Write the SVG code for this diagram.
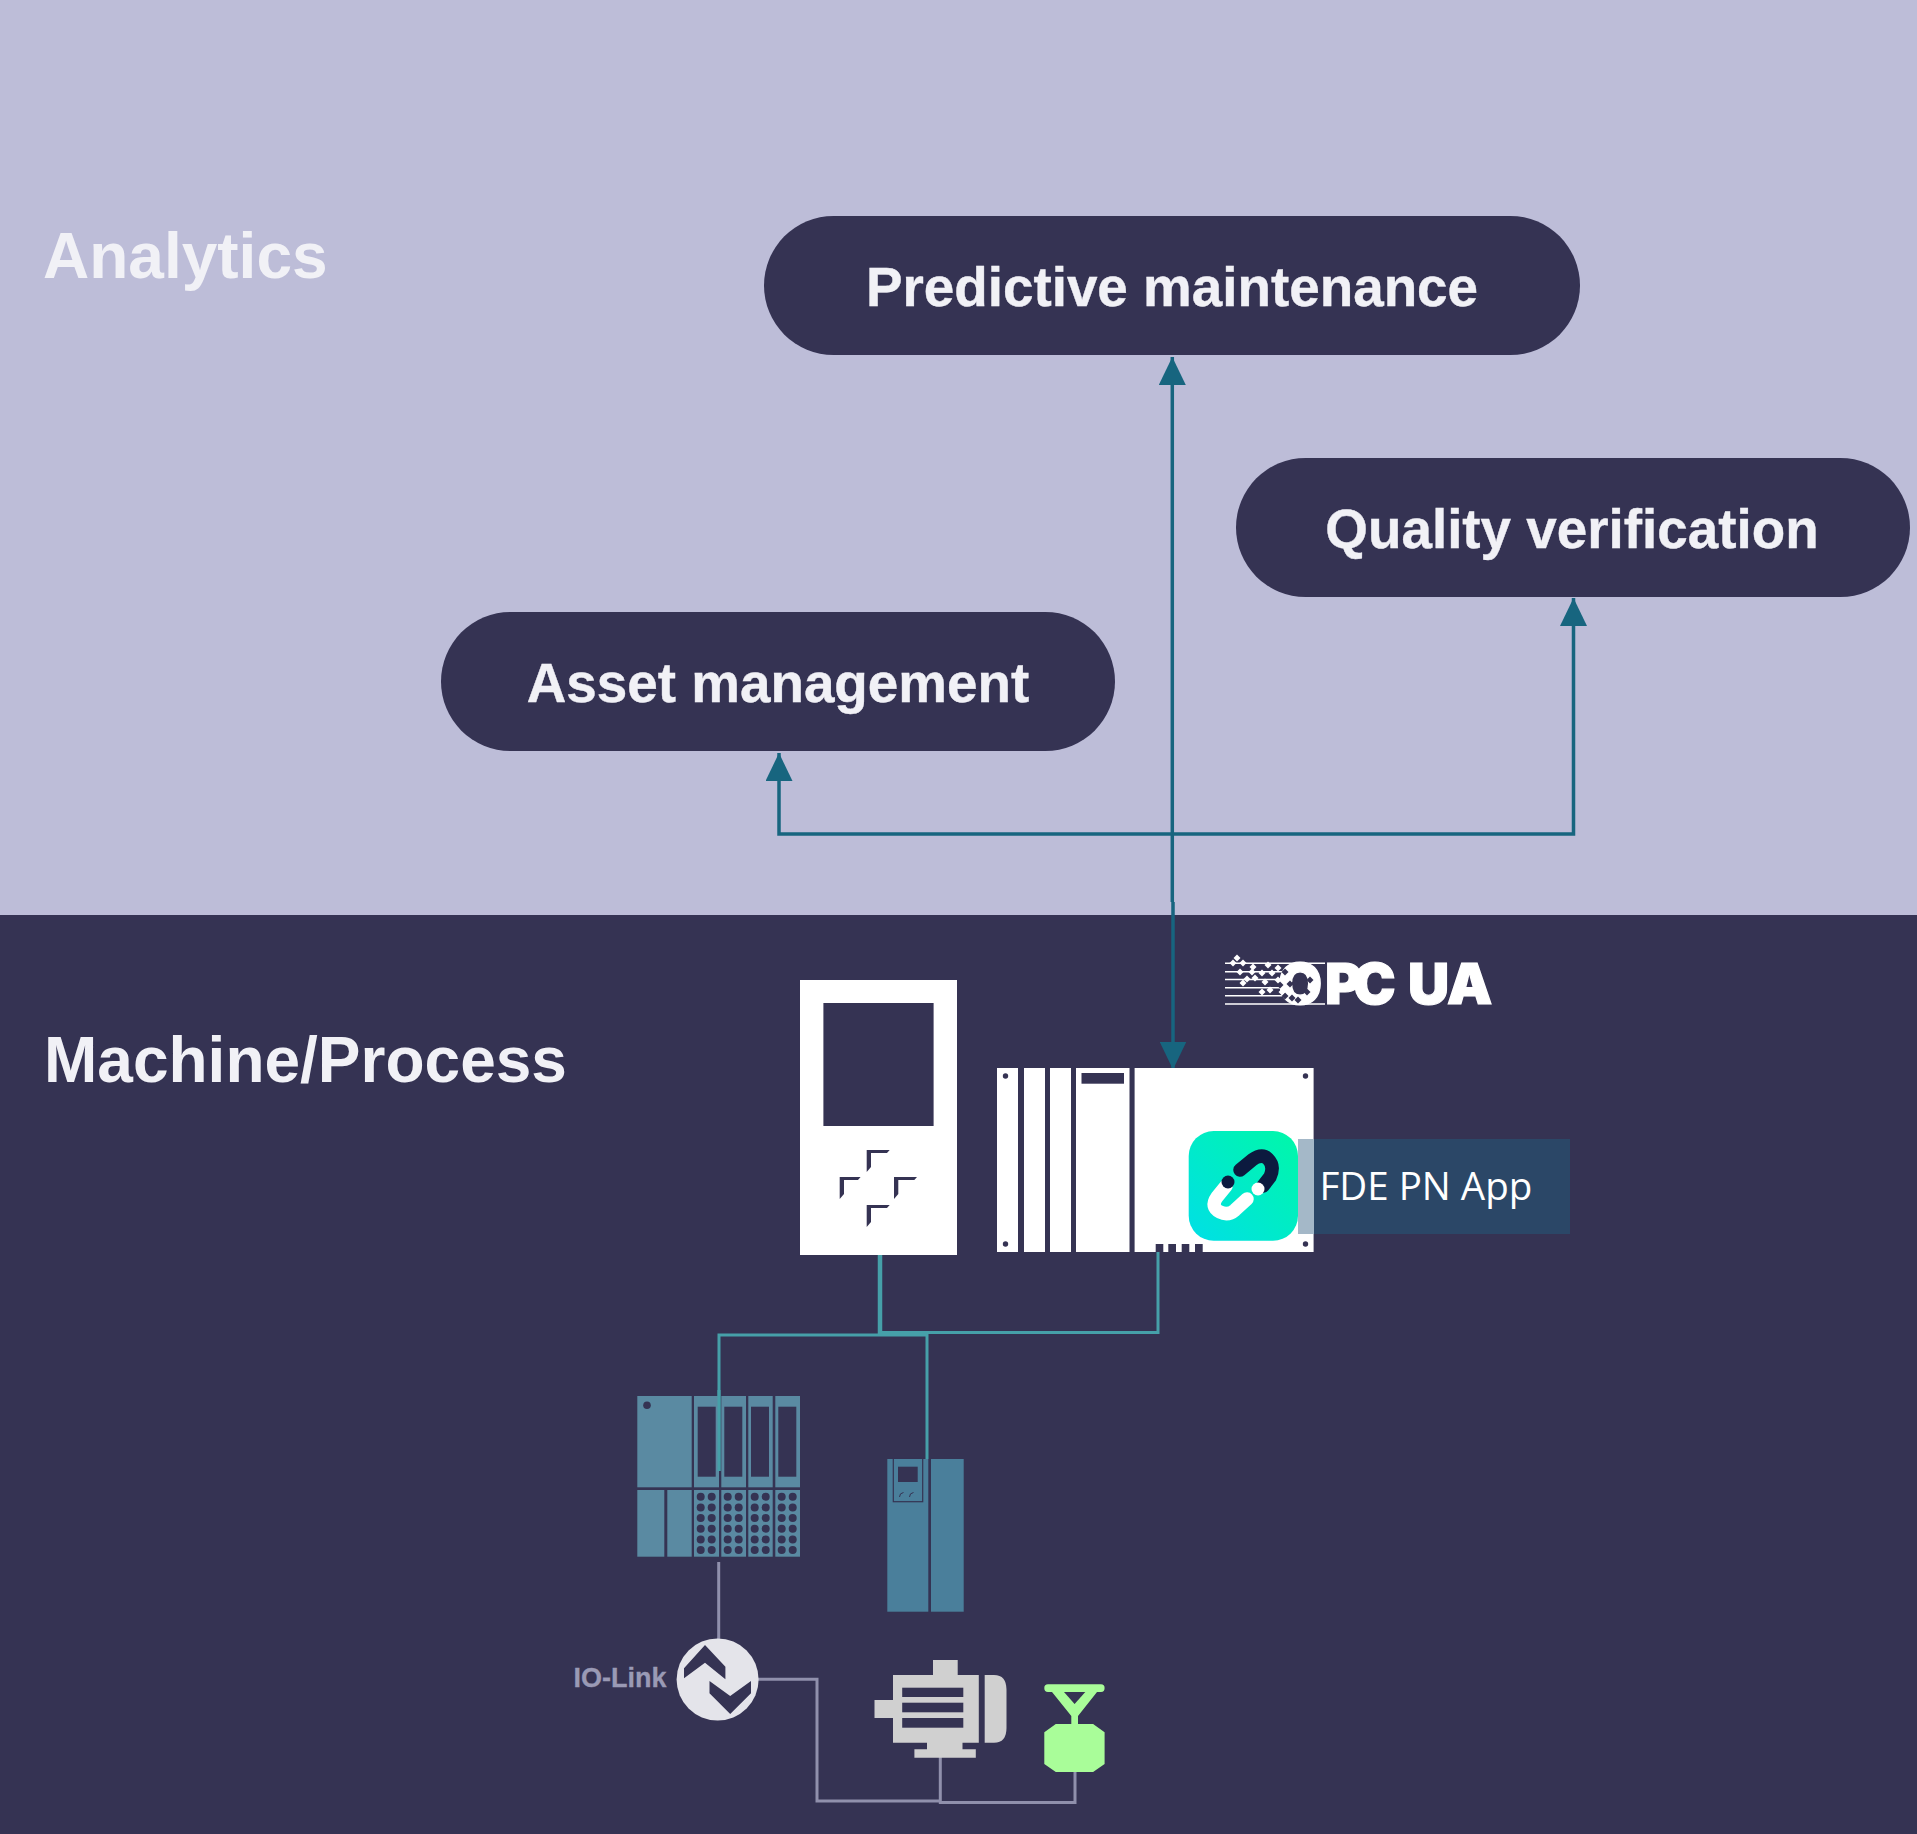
<svg xmlns="http://www.w3.org/2000/svg" width="1917" height="1834" viewBox="0 0 1917 1834">
<style>
.pill{fill:#353353}
.pt{font:bold 54.8px "Liberation Sans",Arial,sans-serif;fill:#f1f1f6;stroke:#f1f1f6;stroke-width:.4;text-anchor:middle}
.zone{font:bold 64px "Liberation Sans",Arial,sans-serif;fill:#f1f1f6}
.dk{fill:#353353}
.w{fill:#fff}
.io{fill:#5a8aa2}
.dr{fill:#4a7f9b}
.mo{fill:#d0d0d0}
.va{fill:#a9fd99}
.blue{fill:none;stroke:#17657f;stroke-width:3.500}
.teal{fill:none;stroke:#46a0a9;stroke-width:3}
.grey{fill:none;stroke:#9090ac;stroke-width:3}
</style>
<defs>
<marker id="ah" viewBox="0 0 28 27" refX="28" refY="13.5" markerWidth="28" markerHeight="27" markerUnits="userSpaceOnUse" orient="auto"><path d="M0 0L28 13.5L0 27Z" fill="#17657f"/></marker>
<linearGradient id="app" x1="0" y1="1" x2="1" y2="0"><stop offset="0" stop-color="#00dfe6"/><stop offset="1" stop-color="#00f8a8"/></linearGradient>
<g id="dots"><circle cx="0" cy="0" r="4"/><circle cx="11" cy="0" r="4"/><circle cx="0" cy="10.7" r="4"/><circle cx="11" cy="10.7" r="4"/><circle cx="0" cy="21.4" r="4"/><circle cx="11" cy="21.4" r="4"/><circle cx="0" cy="32" r="4"/><circle cx="11" cy="32" r="4"/><circle cx="0" cy="42.7" r="4"/><circle cx="11" cy="42.7" r="4"/><circle cx="0" cy="53.4" r="4"/><circle cx="11" cy="53.4" r="4"/></g>
<path id="dia" d="M0-3.500L3.500 0L0 3.500L-3.500 0Z"/>
</defs>
<rect width="1917" height="915" fill="#bdbdd8"/>
<rect y="915" width="1917" height="919" fill="#353353"/>
<g id="zone-labels">
<text class="zone" x="43" y="278">Analytics</text>
<text class="zone" x="44" y="1082">Machine/Process</text>
</g>
<g id="connectors">
<path class="blue" d="M1172.300 902V357" marker-end="url(#ah)"/>
<path class="blue" d="M1172.300 834H779V753" marker-end="url(#ah)"/>
<path class="blue" d="M1172.300 834H1573.500V598" marker-end="url(#ah)"/>
<path class="blue" d="M1173 902V1069.500" marker-end="url(#ah)"/>
</g>
<g id="pill-predictive"><rect class="pill" x="764" y="216" width="816" height="139" rx="69.5"/><text class="pt" x="1172" y="306">Predictive maintenance</text></g>
<g id="pill-quality"><rect class="pill" x="1236" y="458" width="674" height="139" rx="69.5"/><text class="pt" x="1572" y="548">Quality verification</text></g>
<g id="pill-asset"><rect class="pill" x="441" y="612" width="674" height="139" rx="69.5"/><text class="pt" x="778" y="702">Asset management</text></g>
<g id="opc-ua">
<text x="1278 1325 1353 1393 1408 1447" y="1004" font-family="Inter,'Liberation Sans',sans-serif" font-weight="900" font-size="57" fill="#fff" stroke="#fff" stroke-width="1.200">OPC UA</text>
<path d="M1225 963.300H1325M1225 971.700H1290M1225 979.500H1290M1225 987.700H1290M1225 995.700H1290M1225 1004H1325" stroke="#fff" stroke-width="1.600"/>
<g class="dk"><use href="#dia" x="1285" y="972"/><use href="#dia" x="1290" y="984"/><use href="#dia" x="1285" y="996"/><use href="#dia" x="1295" y="983"/><use href="#dia" x="1310" y="980"/><use href="#dia" x="1307" y="992"/><use href="#dia" x="1292" y="998"/><use href="#dia" x="1298" y="1000"/><use href="#dia" x="1280" y="985"/></g>
<g class="w"><use href="#dia" x="1237" y="958"/><use href="#dia" x="1233" y="963"/><use href="#dia" x="1243" y="963"/><use href="#dia" x="1253" y="967"/><use href="#dia" x="1268" y="965"/><use href="#dia" x="1278" y="968"/><use href="#dia" x="1240" y="972"/><use href="#dia" x="1252" y="972"/><use href="#dia" x="1262" y="973"/><use href="#dia" x="1272" y="973"/><use href="#dia" x="1247" y="979"/><use href="#dia" x="1255" y="978"/><use href="#dia" x="1265" y="982"/><use href="#dia" x="1278" y="980"/><use href="#dia" x="1243" y="983"/><use href="#dia" x="1262" y="992"/><use href="#dia" x="1270" y="990"/><use href="#dia" x="1282" y="992"/></g>
</g>
<g id="hmi">
<rect class="w" x="800" y="980" width="157" height="275"/>
<rect class="dk" x="823.400" y="1003" width="110.200" height="123"/>
<path class="dk" d="M866.700 1172V1150H889.700L887 1153H871V1167zM839.700 1199V1177H860.600L858 1180H844V1194zM894 1199V1177H917L914.300 1180H898.300V1194zM866.700 1227V1205H889.700L887 1208H871V1222z"/>
</g>
<g id="plc">
<rect class="w" x="997" y="1068" width="21" height="184"/>
<rect class="w" x="1024" y="1068" width="21" height="184"/>
<rect class="w" x="1050" y="1068" width="21" height="184"/>
<rect class="w" x="1076" y="1068" width="53.500" height="184"/>
<rect class="w" x="1134.600" y="1068" width="179" height="184"/>
<rect class="dk" x="1081.500" y="1073" width="42.500" height="10.700"/>
<circle class="dk" cx="1005.500" cy="1076" r="2.700"/><circle class="dk" cx="1005.500" cy="1244" r="2.700"/>
<circle class="dk" cx="1305.500" cy="1076" r="2.700"/><circle class="dk" cx="1305.500" cy="1244" r="2.700"/>
<path class="dk" d="M1155.700 1244h7.600v8h-7.600zM1168.300 1244h7.700v8h-7.700zM1181.700 1244h7.600v8h-7.600zM1195 1244h7.700v8h-7.700z"/>
</g>
<g id="fde-app">
<rect x="1298" y="1139" width="16" height="95" fill="#a4b8c8"/>
<rect x="1314" y="1139" width="256" height="95" fill="#2b4767"/>
<rect x="1188.700" y="1131" width="109.300" height="109.700" rx="25" fill="url(#app)"/>
<path d="M1226 1186L1217 1197Q1210 1207 1220 1212Q1228 1216 1235 1210L1247 1199" fill="none" stroke="#fff" stroke-width="13.500" stroke-linecap="round"/>
<path d="M1240 1170L1252 1160Q1262 1153 1268 1159Q1275 1166 1270 1177L1263 1186" fill="none" stroke="#0c1a3f" stroke-width="13.500" stroke-linecap="round"/>
<circle cx="1228" cy="1182" r="6.500" fill="#0c1a3f"/>
<circle cx="1258" cy="1189" r="6.500" fill="#fff"/>
<text x="1319.500" y="1200" font-family="'Open Sans','Noto Sans',sans-serif" font-size="38.500" fill="#fff">FDE PN App</text>
</g>
<g id="connectors-field">
<path class="teal" d="M719 1471V1335H927V1459M1158 1252V1332.500H880"/>
<path class="teal" style="stroke-width:4.500" d="M880 1255V1334"/>
<path class="grey" d="M718.700 1562V1640"/>
<path class="grey" d="M758 1679.300H817V1801H941"/>
<path class="grey" d="M940.300 1757V1802.500H1075V1772"/>
</g>
<g id="io-station">
<g class="io">
<rect x="637.300" y="1396" width="54.400" height="91.300"/><rect x="637.300" y="1490" width="27" height="66.700"/><rect x="667.300" y="1490" width="24.400" height="66.700"/>
<rect x="694" y="1396" width="25" height="91.300"/><rect x="721.300" y="1396" width="24.700" height="91.300"/><rect x="748.300" y="1396" width="24.400" height="91.300"/><rect x="775.300" y="1396" width="24.700" height="91.300"/>
<rect x="694" y="1490" width="25" height="66.700"/><rect x="721.300" y="1490" width="24.700" height="66.700"/><rect x="748.300" y="1490" width="24.400" height="66.700"/><rect x="775.300" y="1490" width="24.700" height="66.700"/>
</g>
<g class="dk">
<circle cx="647" cy="1405.300" r="3.800"/>
<rect x="697.700" y="1406.700" width="18" height="70"/><rect x="724.300" y="1406.700" width="18" height="70"/><rect x="751" y="1406.700" width="18" height="70"/><rect x="778.300" y="1406.700" width="18" height="70"/>
<use href="#dots" x="700.700" y="1496.700"/><use href="#dots" x="727.700" y="1496.700"/><use href="#dots" x="754.700" y="1496.700"/><use href="#dots" x="781.700" y="1496.700"/>
</g>
<path class="teal" d="M719 1390V1471"/>
</g>
<g id="drive">
<rect class="dr" x="887.300" y="1459" width="41" height="152.700"/>
<rect class="dr" x="931" y="1459" width="32.700" height="152.700"/>
<rect x="893.300" y="1458" width="29.400" height="43.700" fill="none" stroke="#353353" stroke-width="1.200"/>
<rect class="dk" x="898" y="1466.700" width="19.700" height="15.300"/>
<path d="M899.500 1497q0-4 4-4.500M909.500 1497q0-4 4-4.500" fill="none" stroke="#353353" stroke-width="1"/>
</g>
<g id="io-link">
<circle cx="717.600" cy="1679.500" r="41" fill="#e4e4ea"/>
<path class="dk" d="M705 1645L725.400 1666.700V1679.300L705 1662.700L684 1678.300V1668.300Z"/>
<path class="dk" d="M709.500 1681V1693.300L730.200 1714L751 1693.300V1681L730.200 1696Z"/>
<text x="573.500" y="1686.700" font-family="'Liberation Sans',Arial,sans-serif" font-weight="bold" font-size="27" fill="#9a9ab5" stroke="#9a9ab5" stroke-width=".3">IO-Link</text>
</g>
<g id="motor">
<path class="mo" d="M933 1660H957.700V1675H978.800V1742.700H962.500V1749.300H975.800V1757.700H914.400V1749.300H927V1742.700H893V1718H874.500V1700H893V1675H933Z"/>
<path class="mo" d="M984.700 1675H994Q1006.500 1675 1006.500 1690V1728Q1006.500 1742.700 994 1742.700H984.700Z"/>
<g class="dk"><rect x="902.200" y="1687.700" width="61.100" height="9.300"/><rect x="902.200" y="1702.700" width="61.100" height="9.600"/><rect x="902.200" y="1718" width="61.100" height="9.700"/></g>
</g>
<g id="valve">
<path class="va" d="M1048 1684.300H1101Q1104.600 1684.300 1104.600 1688Q1104.600 1692 1101 1692H1097L1078 1716V1724H1093.100L1104.600 1732.300V1764L1093.100 1772H1055.800L1044.300 1764V1732.300L1055.800 1724H1071.300V1716L1052 1692H1048Q1044.300 1692 1044.300 1688Q1044.300 1684.300 1048 1684.300Z"/>
<path class="dk" d="M1064 1692H1085.300L1074.600 1704Z"/>
</g>
</svg>
